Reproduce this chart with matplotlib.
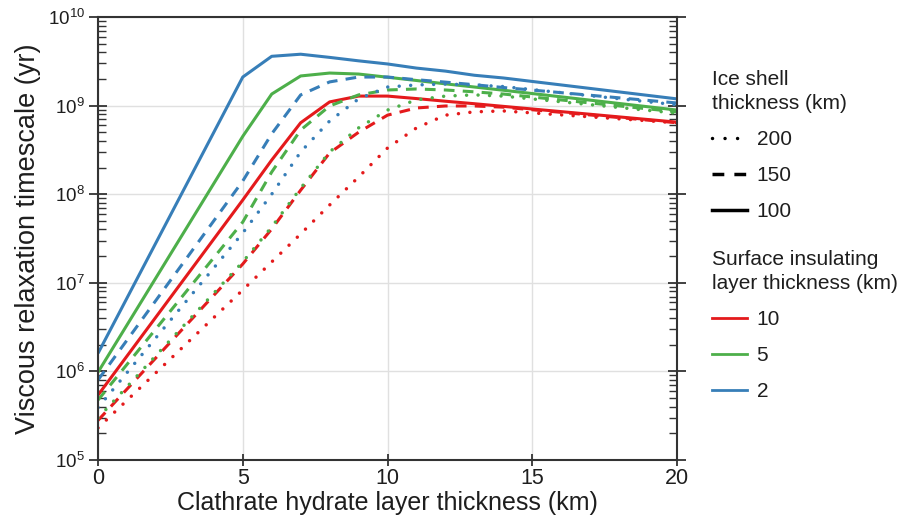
import matplotlib
matplotlib.use("Agg")
import matplotlib.pyplot as plt
from matplotlib.lines import Line2D
from matplotlib.ticker import LogLocator, NullFormatter, FixedLocator

plt.rcParams['font.family'] = ['Liberation Sans', 'DejaVu Sans']

# Clathrate hydrate layer thickness (km)
x_km = [0, 5, 6, 7, 8, 9, 10, 11, 12, 13, 14, 20]

# Viscous relaxation timescale (yr); naming: <insulating layer km>_<ice shell km>
t_2_100 = [1.6e6, 2.1e9, 3.6e9, 3.8e9, 3.5e9, 3.2e9, 2.95e9, 2.65e9, 2.45e9, 2.2e9, 2.05e9, 1.19e9]
t_2_150 = [8.0e5, 1.41e8, 4.8e8, 1.32e9, 1.85e9, 2.1e9, 2.1e9, 1.96e9, 1.84e9, 1.72e9, 1.6e9, 1.07e9]
t_2_200 = [3.9e5, 3.65e7, 1.0e8, 3.0e8, 6.7e8, 1.19e9, 1.62e9, 1.71e9, 1.75e9, 1.71e9, 1.64e9, 1.02e9]
t_5_100 = [9.8e5, 4.5e8, 1.35e9, 2.16e9, 2.33e9, 2.27e9, 2.09e9, 1.92e9, 1.76e9, 1.62e9, 1.49e9, 8.9e8]
t_5_150 = [4.75e5, 4.85e7, 1.78e8, 5.3e8, 9.9e8, 1.32e9, 1.5e9, 1.54e9, 1.5e9, 1.43e9, 1.35e9, 8.5e8]
t_5_200 = [2.98e5, 1.72e7, 4.27e7, 1.17e8, 3.0e8, 5.6e8, 8.9e8, 1.16e9, 1.28e9, 1.32e9, 1.28e9, 8.2e8]
t_10_100 = [5.4e5, 8.6e7, 2.43e8, 6.4e8, 1.1e9, 1.28e9, 1.28e9, 1.2e9, 1.12e9, 1.05e9, 9.8e8, 6.5e8]
t_10_150 = [2.8e5, 1.63e7, 4.05e7, 1.11e8, 2.92e8, 5.0e8, 7.8e8, 9.4e8, 9.9e8, 9.9e8, 9.6e8, 6.4e8]
t_10_200 = [2.3e5, 8.3e6, 1.72e7, 3.56e7, 7.55e7, 1.56e8, 3.32e8, 5.6e8, 7.8e8, 8.5e8, 8.7e8, 6.4e8]

shell_labels = ['200', '150', '100']
insul_labels = ['10', '5', '2']

RED = '#e41a1c'
GREEN = '#4daf4a'
BLUE = '#377eb8'
LW = 2.2
DOT = (0, (0.01, 3.3))
DASH = (0, (3.5, 2.7))
SOLID = '-'
TXT = '#1e1e1e'

fig = plt.figure(figsize=(9.01, 5.26), dpi=100)
ax = fig.add_axes([0.1088, 0.1255, 0.6426, 0.8422])

series = [
    (t_10_200, RED, DOT), (t_10_150, RED, DASH), (t_10_100, RED, SOLID),
    (t_5_200, GREEN, DOT), (t_5_150, GREEN, DASH), (t_5_100, GREEN, SOLID),
    (t_2_200, BLUE, DOT), (t_2_150, BLUE, DASH), (t_2_100, BLUE, SOLID),
]
for vals, col, ls in series:
    ax.plot(x_km, vals, color=col, linestyle=ls, lw=LW + (0.3 if ls == DOT else 0),
            dash_capstyle='round' if ls == DOT else 'butt', solid_capstyle='butt')

ax.set_yscale('log')
ax.set_xlim(0, 20)
ax.set_ylim(1e5, 1e10)
ax.xaxis.set_major_locator(FixedLocator([0, 5, 10, 15, 20]))
ax.yaxis.set_major_locator(LogLocator(base=10, numticks=20))
ax.yaxis.set_minor_locator(LogLocator(base=10, subs=range(2, 10), numticks=50))
ax.yaxis.set_minor_formatter(NullFormatter())

ax.grid(True, which='major', color='#e0e0e0', lw=1.0)
ax.set_axisbelow(True)
for s in ax.spines.values():
    s.set_color('#333333')
    s.set_linewidth(1.5)

ax.tick_params(axis='both', which='major', colors='#333333', labelcolor=TXT, width=1.3)
ax.tick_params(axis='y', which='major', direction='inout', length=13, right=True,
               labelsize=13.5, pad=3)
ax.tick_params(axis='y', which='minor', direction='in', length=6, width=1.0,
               right=True, colors='#333333')
ax.tick_params(axis='x', which='major', direction='inout', length=9, pad=1,
               labelsize=15.5)

ax.set_xlabel('Clathrate hydrate layer thickness (km)', fontsize=18, color=TXT, labelpad=2)
ax.set_ylabel('Viscous relaxation timescale (yr)', fontsize=19.5, color=TXT, labelpad=5)

h1 = [Line2D([], [], color='black', lw=2.5, linestyle=(0, (0.01, 3.6)), dash_capstyle='round'),
      Line2D([], [], color='black', lw=2.5, linestyle=(0, (3.4, 2.9))),
      Line2D([], [], color='black', lw=2.5, linestyle='-')]
leg_kw = dict(loc='upper left', frameon=False, fontsize=15, title_fontsize=15,
              handlelength=1.7, handletextpad=0.45, labelspacing=0.82,
              alignment='left', borderaxespad=0, borderpad=0)
leg1 = fig.legend(h1, shell_labels, title='Ice shell\nthickness (km)',
                  bbox_to_anchor=(0.790, 0.867), **leg_kw)
h2 = [Line2D([], [], color=RED, lw=2.0), Line2D([], [], color=GREEN, lw=2.0),
      Line2D([], [], color=BLUE, lw=2.0)]
leg2 = fig.legend(h2, insul_labels, title='Surface insulating\nlayer thickness (km)',
                  bbox_to_anchor=(0.790, 0.525), **leg_kw)
for lg in (leg1, leg2):
    for t in lg.get_texts():
        t.set_color(TXT)
    lg.get_title().set_color(TXT)
    lg.get_title().set_linespacing(1.35)

fig.savefig('out.png', dpi=100)
